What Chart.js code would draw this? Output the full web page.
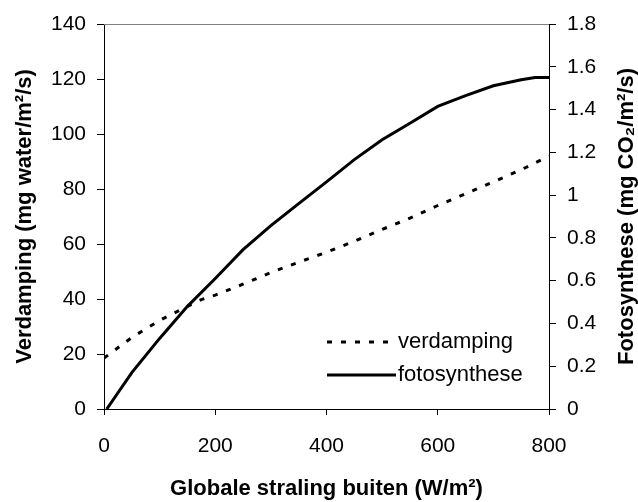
<!DOCTYPE html>
<html>
<head>
<meta charset="utf-8">
<script src="https://cdn.jsdelivr.net/npm/chart.js@4/dist/chart.umd.min.js"></script>
<style>
  body { margin: 0; background: #fff; }
  #wrap { width: 638px; height: 502px; }
</style>
</head>
<body>
<div id="wrap"><canvas id="chart"></canvas></div>
<script>
// globale straling buiten (W/m2) and the values
const verdampingX = [0, 50, 100, 150, 175, 200, 250, 300, 350, 400, 450, 500, 550, 600, 650, 700, 750, 800];
const verdampingY = [18.5, 26, 32.2, 37.3, 39.8, 41.4, 45.4, 49.6, 53.4, 57, 61, 65.3, 69.4, 74, 78.3, 82.6, 87, 92];

const fotoX = [5, 50, 100, 150, 200, 250, 300, 350, 400, 450, 500, 550, 600, 650, 700, 750, 775, 800];
const fotoY = [0, 0.17, 0.33, 0.48, 0.61, 0.745, 0.857, 0.96, 1.062, 1.166, 1.259, 1.336, 1.415, 1.465, 1.511, 1.539, 1.55, 1.55];

const X_TITLE = 'Globale straling buiten (W/m²)';
const Y_TITLE = 'Verdamping (mg water/m²/s)';
const Y1_TITLE = 'Fotosynthese (mg CO₂/m²/s)';

const FONT = 'Arial, "Liberation Sans", sans-serif';
const TICK_FONT = { family: FONT, size: 21 };
const TITLE_FONT = { family: FONT, size: 22, weight: 'bold' };

function pts(xs, ys) {
    return xs.map((x, i) => ({ x: x, y: ys[i] }));
}

// top border, custom legend inside the plot, right title read bottom-up
const extras = {
    id: 'extras',
    afterDraw(chart) {
        const ctx = chart.ctx;
        const a = chart.chartArea;
        ctx.save();
        ctx.strokeStyle = '#808080';
        ctx.lineWidth = 1;
        ctx.beginPath();
        ctx.moveTo(a.left, a.top + 0.5);
        ctx.lineTo(a.right, a.top + 0.5);
        ctx.stroke();

        // legend
        const rows = [342, 375];
        chart.data.datasets.forEach((ds, i) => {
            const y = rows[i];
            ctx.strokeStyle = ds.borderColor;
            ctx.lineWidth = ds.borderWidth;
            ctx.setLineDash(ds.borderDash || []);
            ctx.beginPath();
            ctx.moveTo(327, y);
            ctx.lineTo(396, y);
            ctx.stroke();
            ctx.setLineDash([]);
            ctx.fillStyle = '#000';
            ctx.font = '22px ' + FONT;
            ctx.textAlign = 'left';
            ctx.textBaseline = 'middle';
            ctx.fillText(ds.label, 398, y);
        });

        // right axis title
        ctx.translate(627, (a.top + a.bottom) / 2);
        ctx.rotate(-Math.PI / 2);
        ctx.font = 'bold 22px ' + FONT;
        ctx.textAlign = 'center';
        ctx.textBaseline = 'middle';
        ctx.fillText(Y1_TITLE, 0, 0);
        ctx.restore();
    }
};

new Chart(document.getElementById('chart'), {
    type: 'line',
    data: {
        datasets: [
            {
                label: 'verdamping',
                data: pts(verdampingX, verdampingY),
                yAxisID: 'y',
                borderColor: '#000',
                borderWidth: 3,
                borderDash: [5, 9],
                pointRadius: 0,
                tension: 0,
                fill: false
            },
            {
                label: 'fotosynthese',
                data: pts(fotoX, fotoY),
                yAxisID: 'y1',
                borderColor: '#000',
                borderWidth: 3,
                pointRadius: 0,
                tension: 0,
                fill: false
            }
        ]
    },
    options: {
        animation: false,
        responsive: true,
        maintainAspectRatio: false,
        layout: { padding: { top: 24, left: 0, right: 0, bottom: 0 } },
        plugins: {
            legend: { display: false },
            tooltip: { enabled: false }
        },
        scales: {
            x: {
                type: 'linear',
                min: 0,
                max: 800,
                afterFit: s => { s.height = 93; },
                ticks: { stepSize: 200, color: '#000', font: TICK_FONT, padding: 19, maxRotation: 0 },
                grid: { drawOnChartArea: false, drawTicks: true, tickLength: 6, color: '#000' },
                border: { color: '#000', width: 1 },
                title: { display: true, text: X_TITLE, color: '#000', font: TITLE_FONT, padding: { top: 0, bottom: 0 } }
            },
            y: {
                position: 'left',
                min: 0,
                max: 140,
                afterFit: s => { s.width = 104; },
                ticks: { stepSize: 20, color: '#000', font: TICK_FONT, padding: 11 },
                grid: { drawOnChartArea: false, drawTicks: true, tickLength: 7, color: '#000' },
                border: { color: '#000', width: 1 },
                title: { display: true, text: Y_TITLE, color: '#000', font: TITLE_FONT, padding: { top: 12, bottom: 0 } }
            },
            y1: {
                position: 'right',
                min: 0,
                max: 1.8,
                afterFit: s => { s.width = 89; },
                ticks: {
                    stepSize: 0.2,
                    color: '#000',
                    font: TICK_FONT,
                    padding: 11,
                    callback: v => String(Number(v.toFixed(1)))
                },
                grid: { drawOnChartArea: false, drawTicks: true, tickLength: 7, color: '#000' },
                border: { color: '#000', width: 1 }
            }
        }
    },
    plugins: [extras]
});
</script>
</body>
</html>
